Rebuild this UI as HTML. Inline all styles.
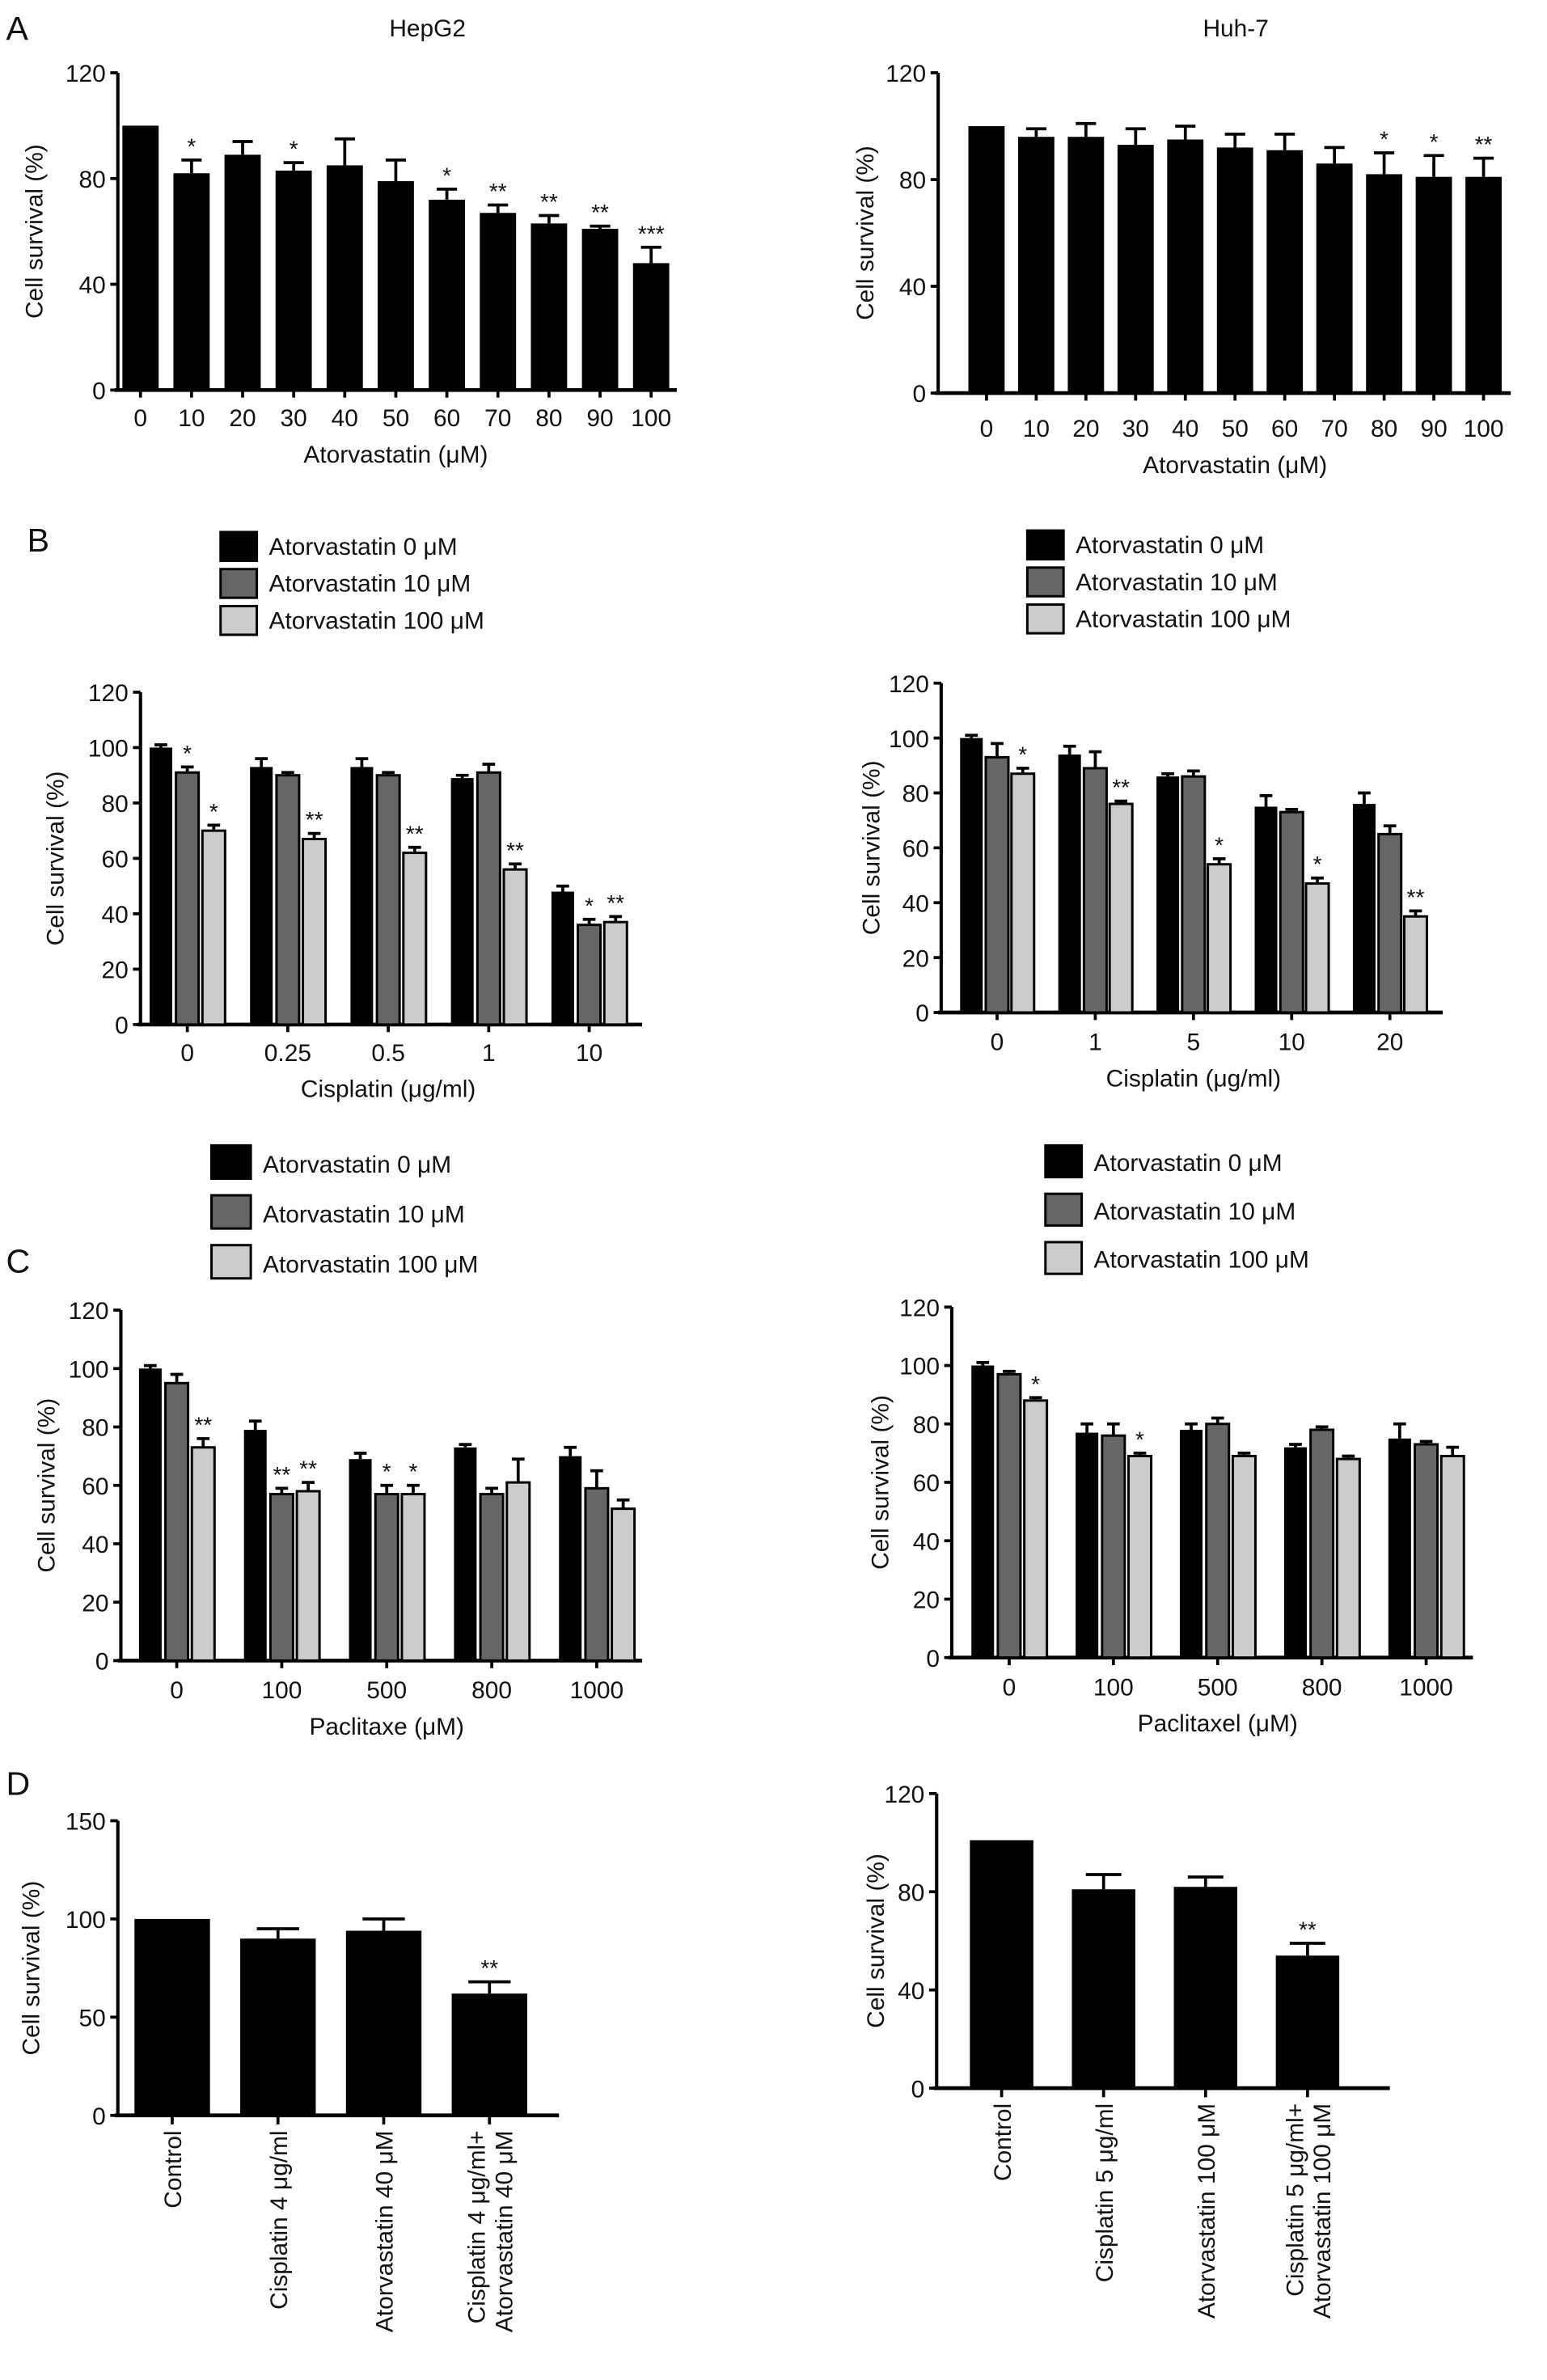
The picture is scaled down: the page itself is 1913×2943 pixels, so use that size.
<!DOCTYPE html>
<html><head><meta charset="utf-8"><style>
html,body{margin:0;padding:0;background:#fff}
svg{display:block}
text{font-family:"Liberation Sans",sans-serif;fill:#111}
</style></head><body>
<svg id="fig" width="1913" height="2943" viewBox="0 0 1024 1575" xmlns="http://www.w3.org/2000/svg">
<text x="4" y="26" font-size="22">A</text>
<text x="283" y="24" font-size="16" text-anchor="middle">HepG2</text>
<text x="818" y="24" font-size="16" text-anchor="middle">Huh-7</text>
<text x="18" y="365" font-size="22">B</text>
<text x="4" y="842" font-size="22">C</text>
<text x="4" y="1188" font-size="22">D</text>
</svg>
<script>
// ---- data ----
const aCats = ["0","10","20","30","40","50","60","70","80","90","100"];
const aLeftVals = [100,82,89,83,85,79,72,67,63,61,48];
const aLeftErr = [0,5,5,3,10,8,4,3,3,1,6];
const aLeftSig = ["","*","","*","","","*","**","**","**","***"];
const aRightVals = [100,96,96,93,95,92,91,86,82,81,81];
const aRightErr = [0,3,5,6,5,5,6,6,8,8,7];
const aRightSig = ["","","","","","","","","*","*","**"];
const aTicks = [0,40,80,120];

const bLeftCats = ["0","0.25","0.5","1","10"];
const bLeftV0 = [100,93,93,89,48];
const bLeftV10 = [91,90,90,91,36];
const bLeftV100 = [70,67,62,56,37];
const bLeftE0 = [1,3,3,1,2];
const bLeftE10 = [2,1,1,3,2];
const bLeftE100 = [2,2,2,2,2];
const bLeftSig = [["","*","*"],["","","**"],["","","**"],["","","**"],["","*","**"]];
const bRightCats = ["0","1","5","10","20"];
const bRightV0 = [100,94,86,75,76];
const bRightV10 = [93,89,86,73,65];
const bRightV100 = [87,76,54,47,35];
const bRightE0 = [1,3,1,4,4];
const bRightE10 = [5,6,2,1,3];
const bRightE100 = [2,1,2,2,2];
const bRightSig = [["","","*"],["","","**"],["","","*"],["","","*"],["","","**"]];
const bcTicks = [0,20,40,60,80,100,120];

const cCats = ["0","100","500","800","1000"];
const cLeftV0 = [100,79,69,73,70];
const cLeftV10 = [95,57,57,57,59];
const cLeftV100 = [73,58,57,61,52];
const cLeftE0 = [1,3,2,1,3];
const cLeftE10 = [3,2,3,2,6];
const cLeftE100 = [3,3,3,8,3];
const cLeftSig = [["","","**"],["","**","**"],["","*","*"],["","",""],["","",""]];
const cRightV0 = [100,77,78,72,75];
const cRightV10 = [97,76,80,78,73];
const cRightV100 = [88,69,69,68,69];
const cRightE0 = [1,3,2,1,5];
const cRightE10 = [1,4,2,1,1];
const cRightE100 = [1,1,1,1,3];
const cRightSig = [["","","*"],["","","*"],["","",""],["","",""],["","",""]];

const dLeftCats = [["Control"],["Cisplatin 4 μg/ml"],["Atorvastatin 40 μM"],["Cisplatin 4 μg/ml+","Atorvastatin 40 μM"]];
const dLeftVals = [100,90,94,62];
const dLeftErr = [0,5,6,6];
const dLeftSig = ["","","","**"];
const dLeftTicks = [0,50,100,150];
const dRightCats = [["Control"],["Cisplatin 5 μg/ml"],["Atorvastatin 100 μM"],["Cisplatin 5 μg/ml+","Atorvastatin 100 μM"]];
const dRightVals = [101,81,82,54];
const dRightErr = [0,6,4,5];
const dRightSig = ["","","","**"];
const dRightTicks = [0,40,80,120];

const legendLabels = ["Atorvastatin 0 μM","Atorvastatin 10 μM","Atorvastatin 100 μM"];
const fills = ["#000","#666","#ccc"];

// ---- drawing ----
const svg = document.getElementById('fig');
const NS = 'http://www.w3.org/2000/svg';
function mk(tag, attrs, parent){const e=document.createElementNS(NS,tag);for(const k in attrs)e.setAttribute(k,attrs[k]);(parent||svg).appendChild(e);return e;}

function axes(name, ax, yTop, yBot, xEnd, ymax, ticks, ylabelX){
  const g = mk('g',{});
  
  
  const y = v => yBot - (v/ymax)*(yBot-yTop);
  mk('line',{x1:ax,y1:yTop,x2:ax,y2:yBot+1,stroke:'#000','stroke-width':2.2},g);
  mk('line',{x1:ax-2,y1:yBot,x2:xEnd,y2:yBot,stroke:'#000','stroke-width':2.5},g);
  ticks.forEach(t=>{
    mk('line',{x1:ax-5,y1:y(t),x2:ax,y2:y(t),stroke:'#000','stroke-width':2},g);
    const tx = mk('text',{x:ax-8,y:y(t)+6,'font-size':16,'text-anchor':'end'},g);
    tx.textContent = t;
    
    
  });
  const yl = mk('text',{x:0,y:0,'font-size':16,'text-anchor':'middle',transform:`translate(${ylabelX},${(yTop+yBot)/2}) rotate(-90)`},g);
  yl.textContent='Cell survival (%)';
  
  
  return {g,y};
}
function bar(g, cx, w, v, e, y, fill, yBot, sig, name){
  const top = y(v);
  if(e>0){
    mk('line',{x1:cx,y1:top,x2:cx,y2:y(v+e),stroke:'#000','stroke-width':2},g);
    mk('line',{x1:cx-w*0.28,y1:y(v+e),x2:cx+w*0.28,y2:y(v+e),stroke:'#000','stroke-width':2},g);
  }
  const r = mk('rect',{x:cx-w/2,y:top,width:w,height:yBot-top,fill:fill,stroke:'#000','stroke-width':fill==='#000'?0:1.6},g);
  
  
  if(sig){
    const s = mk('text',{x:cx,y:y(v+e)-4,'font-size':15,'text-anchor':'middle'},g);
    s.textContent = sig;
    
    
  }
}
function xlabel(g, x, y, txt){
  const t = mk('text',{x:x,y:y,'font-size':16,'text-anchor':'middle'},g);
  t.textContent = txt;
  
  
}

// Panel A
function panelA(name, ax, yTop, yBot, xEnd, x0, step, vals, errs, sigs, ylX, xtY){
  const {g,y} = axes(name, ax, yTop, yBot, xEnd, 120, aTicks, ylX);
  aCats.forEach((c,i)=>{
    const cx = x0+i*step;
    bar(g,cx,24,vals[i],errs[i],y,'#000',yBot,sigs[i],'bar-'+c);
    mk('line',{x1:cx,y1:yBot,x2:cx,y2:yBot+5,stroke:'#000','stroke-width':2},g);
    const t = mk('text',{x:cx,y:xtY,'font-size':16,'text-anchor':'middle'},g);
    t.textContent = c;
    
    
  });
  xlabel(g, (x0+x0+10*step)/2, xtY+24, 'Atorvastatin (μM)');
}
panelA('chart-a-hepg2', 78, 48, 258, 448, 93, 33.8, aLeftVals, aLeftErr, aLeftSig, 28, 282);
panelA('chart-a-huh7', 621, 48, 260, 1000, 653, 32.9, aRightVals, aRightErr, aRightSig, 578, 289);

// Grouped panels
function legend(name, bx, by, gap, bw, bh){
  const g = mk('g',{});
  
  
  legendLabels.forEach((l,i)=>{
    const r = mk('rect',{x:bx,y:by+i*gap,width:bw,height:bh,fill:fills[i],stroke:'#000','stroke-width':1.6},g);
    
    
    const t = mk('text',{x:bx+bw+8,y:by+i*gap+bh-4,'font-size':16},g);
    t.textContent = l;
    
    
  });
}
function grouped(name, ax, yTop, yBot, xEnd, x0, step, cats, V, E, S, ylX, xtY, xt, bw, off){
  const {g,y} = axes(name, ax, yTop, yBot, xEnd, 120, bcTicks, ylX);
  cats.forEach((c,i)=>{
    const cx = x0+i*step;
    for(let s=0;s<3;s++){
      bar(g,cx+(s-1)*off,bw,V[s][i],E[s][i],y,fills[s],yBot,S[i][s],'bar-'+c+'-series'+s);
    }
    mk('line',{x1:cx,y1:yBot,x2:cx,y2:yBot+5,stroke:'#000','stroke-width':2},g);
    const t = mk('text',{x:cx,y:xtY,'font-size':16,'text-anchor':'middle'},g);
    t.textContent = c;
    
    
  });
  xlabel(g, (x0+x0+(cats.length-1)*step)/2, xtY+24, xt);
}
legend('legend-b-left', 146, 352, 24.5, 24, 19);
legend('legend-b-right', 680, 351, 24.5, 24, 19);
grouped('chart-b-hepg2', 93, 458, 678, 425, 124, 66.5, bLeftCats, [bLeftV0,bLeftV10,bLeftV100],[bLeftE0,bLeftE10,bLeftE100], bLeftSig, 42, 702, 'Cisplatin (μg/ml)', 15, 17.5);
grouped('chart-b-huh7', 623, 452, 670, 955, 660, 65, bRightCats, [bRightV0,bRightV10,bRightV100],[bRightE0,bRightE10,bRightE100], bRightSig, 582, 695, 'Cisplatin (μg/ml)', 15, 17);
legend('legend-c-left', 140, 758, 33, 26, 22);
legend('legend-c-right', 692, 758, 32, 24, 21);
grouped('chart-c-hepg2', 80, 867, 1099, 425, 117, 69.5, cCats, [cLeftV0,cLeftV10,cLeftV100],[cLeftE0,cLeftE10,cLeftE100], cLeftSig, 36, 1124, 'Paclitaxe (μM)', 15, 17.5);
grouped('chart-c-huh7', 630, 865, 1097, 975, 668, 69, cCats, [cRightV0,cRightV10,cRightV100],[cRightE0,cRightE10,cRightE100], cRightSig, 588, 1122, 'Paclitaxel (μM)', 15, 17.5);

// Panel D
function panelD(name, ax, yTop, yBot, xEnd, ymax, ticks, x0, step, cats, vals, errs, sigs, ylX, bw){
  const {g,y} = axes(name, ax, yTop, yBot, xEnd, ymax, ticks, ylX);
  cats.forEach((c,i)=>{
    const cx = x0+i*step;
    bar(g,cx,bw,vals[i],errs[i],y,'#000',yBot,sigs[i],'bar-'+c[0].toLowerCase().replace(/[^a-z0-9]+/g,'-'));
    mk('line',{x1:cx,y1:yBot,x2:cx,y2:yBot+6,stroke:'#000','stroke-width':2},g);
    const n = c.length;
    c.forEach((line,j)=>{
      const lx = cx + (j-(n-1)/2)*18 + 6;
      const t = mk('text',{x:0,y:0,'font-size':16,'text-anchor':'end',transform:`translate(${lx},${yBot+10}) rotate(-90)`},g);
      t.textContent = line;
      
      
    });
  });
}
panelD('chart-d-hepg2', 78, 1205, 1400, 370, 150, dLeftTicks, 114, 70, dLeftCats, dLeftVals, dLeftErr, dLeftSig, 26, 50);
panelD('chart-d-huh7', 620, 1187, 1382, 920, 120, dRightTicks, 663, 67.5, dRightCats, dRightVals, dRightErr, dRightSig, 585, 42);
</script>
</body></html>
